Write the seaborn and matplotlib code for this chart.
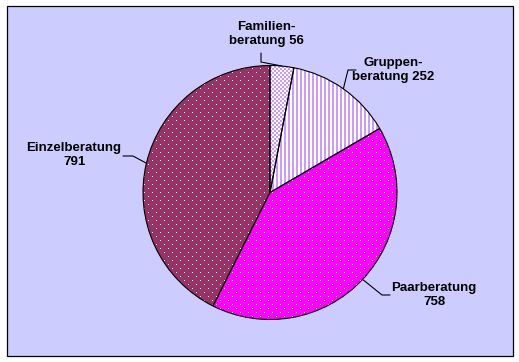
import numpy as np
import matplotlib
matplotlib.use("Agg")
import matplotlib.pyplot as plt
from matplotlib.patches import Rectangle
import seaborn as sns

# ---- data ----
categories = ["Familien-\nberatung 56", "Gruppen-\nberatung 252", "Paarberatung\n758", "Einzelberatung\n791"]
values = [56, 252, 758, 791]

# ---- style ----
sns.set_style("white")
plt.rcParams["font.family"] = ["Liberation Sans", "DejaVu Sans"]

W, H = 519, 362
BG = "#CCCCFF"
LAV = "#CC99FF"
base_colors = ["#FFFFFF", "#FFFFFF", "#FF00FF", "#993366"]
patterns = ["checker", "stripes", "dots", "dots"]
pattern_colors = [LAV, LAV, "#FFFFFF", "#FFFFFF"]

# label layout in pixel coords (x, y from top): text centre, leader start, elbow
label_text_pos = [(266, 34), (393, 70), (434, 295), (74, 155)]
leader_start = [(261, 53), (356, 70), (390, 295), (123, 156)]
leader_elbow = [(261, 62), (348, 70), (382, 295), (133, 156)]

fig = plt.figure(figsize=(W / 100, H / 100), dpi=100)
ax = fig.add_axes([0, 0, 1, 1])
ax.set_axis_off()

ax.add_patch(Rectangle((6.5, 6.5), 506, 349.5, facecolor=BG, edgecolor="black", lw=0.9, zorder=0))

cx, cy, R = 270, 362 - 192.5, 127
wedges, _ = ax.pie(values, colors=base_colors, startangle=90, counterclock=False,
                   center=(cx, cy), radius=R, wedgeprops=dict(linewidth=0, edgecolor="none"))
for w in wedges:
    w.set_zorder(1)

rr, cc = np.mgrid[0:H, 0:W]
def pattern_img(kind, base, fg):
    b = np.array(matplotlib.colors.to_rgb(base))
    f = np.array(matplotlib.colors.to_rgb(fg))
    if kind == "dots":
        mask = (rr % 4 == 0) & (((cc + ((rr // 4) % 2) * 4) % 8) == 0)
    elif kind == "stripes":
        mask = (cc % 4) < 2
    else:
        mask = ((rr // 2 + cc // 2) % 2) == 0
    img = np.where(mask[..., None], f, b)
    return img

for w, kind, base, fg in zip(wedges, patterns, base_colors, pattern_colors):
    im = ax.imshow(pattern_img(kind, base, fg), extent=(0, W, 0, H), origin="upper",
                   interpolation="nearest", zorder=2)
    im.set_clip_path(w)

edges, _ = ax.pie(values, startangle=90, counterclock=False, center=(cx, cy), radius=R,
                  wedgeprops=dict(fill=False, linewidth=0.8, edgecolor="black"))
for w in edges:
    w.set_zorder(3)

for w, lab, tp, ls, le in zip(wedges, categories, label_text_pos, leader_start, leader_elbow):
    mid = np.deg2rad((w.theta1 + w.theta2) / 2)
    ax_x = cx + R * np.cos(mid)
    ax_y = cy + R * np.sin(mid)
    ax.plot([ls[0], le[0], ax_x], [H - ls[1], H - le[1], ax_y], color="black", lw=0.8, zorder=4)
    ax.text(tp[0], H - tp[1], lab, ha="center", va="center", multialignment="center",
            fontsize=9.5, fontweight="bold", color="black", linespacing=1.15, zorder=5)

ax.set_xlim(0, W)
ax.set_ylim(0, H)
ax.set_aspect("auto")

fig.savefig("out.png", dpi=100, facecolor="white")
